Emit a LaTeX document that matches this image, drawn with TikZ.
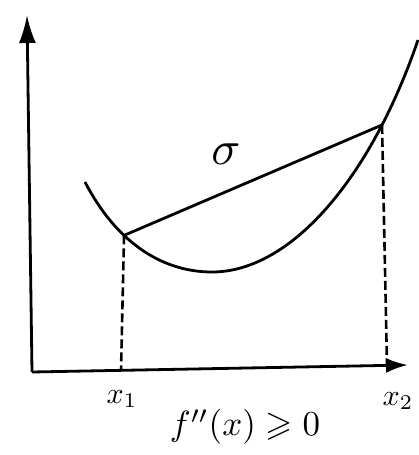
\documentclass[tikz,border=0pt]{standalone}
\usepackage{tikz}
\usepackage{amssymb}
\usetikzlibrary{arrows.meta}

\begin{document}
\begin{tikzpicture}[x=1pt, y=-1pt,
	axis/.style={line width=2.8pt, -{Latex[length=28pt,width=17pt]}},
	curve/.style={line width=2.8pt},
	guide/.style={line width=2.6pt, dash pattern=on 9pt off 4pt},
	lbl/.style={inner sep=0pt}]
	\useasboundingbox (0,0) rectangle (418,455);

	\coordinate (O) at (32, 372);
	\coordinate (ytop) at (27, 15);
	\coordinate (xend) at (408, 365);
	\coordinate (A0) at (121, 371);
	\coordinate (B0) at (387, 366);

	\draw[axis] (O) -- (ytop);
	\draw[axis, -{Latex[length=22pt,width=15pt]}] (O) -- (xend);

	\draw[curve] (85, 182) .. controls (115, 240) and (160, 272) .. coordinate[pos=0.37] (A) (212, 272)
		.. controls (290, 272) and (370, 180) .. coordinate[pos=0.78] (B) (418, 40);
	\draw[curve] (A) -- (B);

	\draw[guide] (A) -- (A0);
	\draw[guide] (B) -- (B0);

	\node[lbl, scale=3.0] (xone) at (122, 399) {$x_1$};
	\node[lbl, scale=3.0] (xtwo) at (398, 401) {$x_2$};
	\node[lbl, scale=4.8] (sig) at (226, 154) {$\sigma$};
	\node[lbl, scale=3.5] (cond) at (245, 427) {$f''(x)\geqslant 0$};
\end{tikzpicture}
\end{document}
